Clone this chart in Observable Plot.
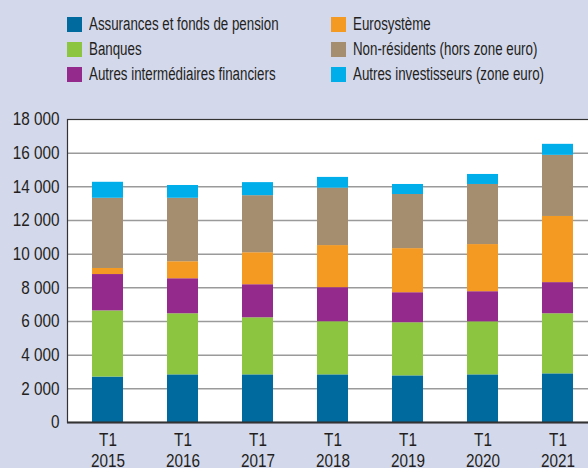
<!DOCTYPE html>
<html>
<head>
<meta charset="utf-8">
<script src="https://cdn.jsdelivr.net/npm/d3@7"></script>
<script src="https://cdn.jsdelivr.net/npm/@observablehq/plot@0.6"></script>
<style>
  html, body { margin: 0; padding: 0; overflow: hidden; background: #d4d8eb; }
  #wrap { position: relative; width: 588px; height: 468px; overflow: hidden; background: #d4d8eb;
          font-family: "Liberation Sans", Arial, sans-serif; color: #231f20; }
  #legend { position: relative; width: 588px; height: 100px; }
  .item { position: absolute; display: flex; align-items: center; height: 20px; }
  .sw { width: 15px; height: 15px; margin-right: 7px; flex: none; }
  .lbl { font-size: 18px; white-space: nowrap; transform: scaleX(0.74); transform-origin: left center; }
  #chart svg { display: block; max-width: none !important; }
</style>
</head>
<body>
<div id="wrap">
  <div id="legend"></div>
  <div id="chart"></div>
</div>
<script>
const years = ["2015", "2016", "2017", "2018", "2019", "2020", "2021"];
const seriesNames = [
  "Assurances et fonds de pension",
  "Banques",
  "Autres intermédiaires financiers",
  "Eurosystème",
  "Non-résidents (hors zone euro)",
  "Autres investisseurs (zone euro)"
];
const colors = ["#006a9e", "#8cc540", "#942b8c", "#f49a22", "#a48e6f", "#00aeea"];
const assurances = [2700, 2830, 2830, 2830, 2770, 2830, 2890];
const banques = [3930, 3630, 3390, 3155, 3155, 3150, 3570];
const autresIF = [2160, 2080, 1965, 2025, 1785, 1790, 1850];
const eurosysteme = [360, 1010, 1900, 2500, 2620, 2800, 3930];
const nonResidents = [4170, 3770, 3390, 3410, 3215, 3570, 3630];
const autresInv = [950, 760, 775, 640, 595, 595, 655];
const yTicks = [0, 2000, 4000, 6000, 8000, 10000, 12000, 14000, 16000, 18000];

const seriesValues = [assurances, banques, autresIF, eurosysteme, nonResidents, autresInv];
const data = [];
seriesNames.forEach((s, i) => years.forEach((y, j) => data.push({year: y, series: s, value: seriesValues[i][j]})));

// Legend (two columns, three rows)
const legendPos = [[67, 14], [67, 39], [67, 64], [331, 14], [331, 39], [331, 64]];
const legend = document.getElementById("legend");
seriesNames.forEach((s, i) => {
  const it = document.createElement("div");
  it.className = "item";
  it.style.left = legendPos[i][0] + "px";
  it.style.top = legendPos[i][1] + "px";
  const sw = document.createElement("div");
  sw.className = "sw";
  sw.style.background = colors[i];
  const lb = document.createElement("span");
  lb.className = "lbl";
  lb.textContent = s;
  it.appendChild(sw); it.appendChild(lb);
  legend.appendChild(it);
});

const fmt = d => d3.format(",")(d).replace(/,/g, " ");

const chart = Plot.plot({
  width: 600,
  height: 368,
  marginTop: 19,
  marginBottom: 46,
  marginLeft: 67,
  marginRight: 3,
  style: {
    background: "transparent",
    fontFamily: "'Liberation Sans', Arial, sans-serif",
    fontSize: "18px",
    color: "#231f20",
    maxWidth: "none"
  },
  x: {domain: years, paddingInner: 0.59, paddingOuter: 0.295, align: 0.5, axis: null, label: null},
  y: {domain: [0, 18000], axis: null, label: null},
  color: {domain: seriesNames, range: colors},
  marks: [
    Plot.frame({fill: "white", stroke: null}),
    Plot.gridY(yTicks.filter(d => d > 0 && d < 18000), {stroke: "#9a9a9a", strokeOpacity: 1, strokeWidth: 1.5}),
    Plot.barY(data, {x: "year", y: "value", fill: "series", order: seriesNames}),
    Plot.frame({stroke: "#333", strokeWidth: 1.2}),
    Plot.ruleY([0], {stroke: "#333", strokeWidth: 2}),
    Plot.axisY(yTicks, {tickSize: 0, tickPadding: 8, tickFormat: fmt, fontSize: 18, fill: "#231f20", label: null}),
    Plot.axisX({tickSize: 0, tickPadding: 9, tickFormat: d => "T1\n" + d, fontSize: 18, lineHeight: 1.17, fill: "#231f20", label: null})
  ]
});
// condense the axis text horizontally (the reference uses a condensed face)
chart.querySelectorAll("text").forEach(el => {
  const t = el.getAttribute("transform") || "";
  el.setAttribute("transform", (t + " scale(0.85,1)").trim());
});
document.getElementById("chart").appendChild(chart);
</script>
</body>
</html>
